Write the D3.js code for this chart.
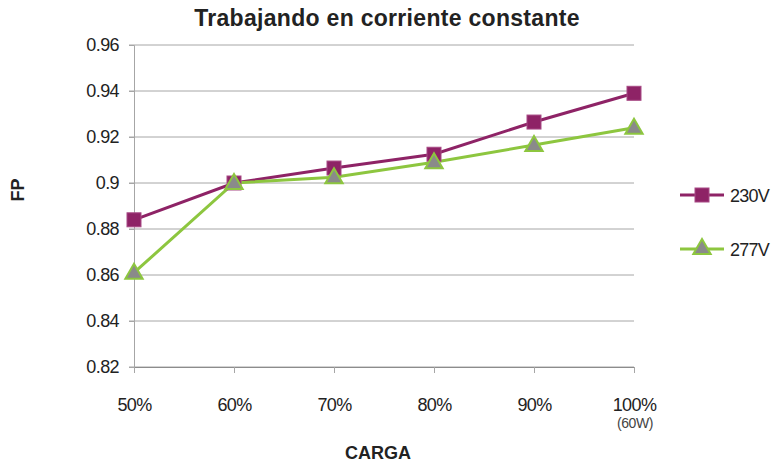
<!DOCTYPE html>
<html>
<head>
<meta charset="utf-8">
<script src="https://cdn.jsdelivr.net/npm/d3@7"></script>
<style>
  body { margin: 0; background: #fff; }
  text { font-family: "Liberation Sans", Arial, sans-serif; fill: #222; }
  .tick text { font-size: 18px; letter-spacing: -0.6px; }
</style>
</head>
<body>
<div id="chart"></div>
<script>
// chart data
var categories = ["50%", "60%", "70%", "80%", "90%", "100%"];
var v230 = [0.884, 0.900, 0.9065, 0.9125, 0.9265, 0.939];
var v277 = [0.861, 0.900, 0.9025, 0.909, 0.9165, 0.924];
var yTicks = [0.82, 0.84, 0.86, 0.88, 0.9, 0.92, 0.94, 0.96];

var svgWidth = 771;
var svgHeight = 467;
var margin = { top: 45, left: 134, right: 137, bottom: 100 };
var width = svgWidth - margin.left - margin.right;
var height = svgHeight - margin.top - margin.bottom;

var svg = d3.select("#chart").append("svg")
  .attr("width", svgWidth)
  .attr("height", svgHeight);

var g = svg.append("g")
  .attr("transform", `translate(${margin.left}, ${margin.top})`);

var x = d3.scalePoint().domain(categories).range([0, width]);
var y = d3.scaleLinear().domain([0.82, 0.96]).range([height, 0]);

// grid lines
g.selectAll(".grid")
  .data(yTicks)
  .enter().append("line")
  .attr("x1", -5)
  .attr("x2", width)
  .attr("y1", d => y(d))
  .attr("y2", d => y(d))
  .attr("stroke", "#a6a6a6")
  .attr("stroke-width", 1);

// y axis
var yAxis = g.append("g")
  .call(d3.axisLeft(y).tickValues(yTicks).tickSize(5).tickPadding(10)
    .tickFormat(d => d3.format("")(+d.toFixed(2))));
yAxis.select(".domain").attr("stroke", "#a6a6a6");
yAxis.selectAll(".tick line").attr("stroke", "#a6a6a6");

// x axis
var xAxis = g.append("g")
  .attr("transform", `translate(0, ${height})`)
  .call(d3.axisBottom(x).tickSize(6).tickPadding(25).tickSizeOuter(0));
xAxis.select(".domain").attr("stroke", "#8c8c8c");
xAxis.selectAll(".tick line").attr("stroke", "#a6a6a6");

g.append("text")
  .attr("x", x("100%") + 1)
  .attr("y", height + 61)
  .attr("text-anchor", "middle")
  .style("font-size", "14px")
  .style("letter-spacing", "-0.4px")
  .style("fill", "#444")
  .text("(60W)");

var purple = "#8e2366";
var green = "#8dc63f";

var line = d3.line()
  .x((d, i) => x(categories[i]))
  .y(d => y(d));

g.append("path")
  .datum(v230)
  .attr("d", line)
  .attr("fill", "none")
  .attr("stroke", purple)
  .attr("stroke-width", 3);

g.append("path")
  .datum(v277)
  .attr("d", line)
  .attr("fill", "none")
  .attr("stroke", green)
  .attr("stroke-width", 3);

var tri = d3.symbol().type(d3.symbolTriangle).size(130);

g.selectAll(".sq")
  .data(v230)
  .enter().append("rect")
  .attr("x", (d, i) => x(categories[i]) - 7)
  .attr("y", d => y(d) - 7)
  .attr("width", 14)
  .attr("height", 14)
  .attr("fill", purple)
  .attr("stroke", "#a84a85")
  .attr("stroke-width", 1);

g.selectAll(".tri")
  .data(v277)
  .enter().append("path")
  .attr("d", tri)
  .attr("transform", (d, i) => `translate(${x(categories[i])}, ${y(d) + 1})`)
  .attr("fill", "#8a8a8a")
  .attr("stroke", green)
  .attr("stroke-width", 2);

// title and axis labels
svg.append("text")
  .attr("x", 387)
  .attr("y", 26)
  .attr("text-anchor", "middle")
  .style("font-size", "23px")
  .style("font-weight", "bold")
  .style("letter-spacing", "0.3px")
  .text("Trabajando en corriente constante");

svg.append("text")
  .attr("x", 378)
  .attr("y", 459)
  .attr("text-anchor", "middle")
  .style("font-size", "18px")
  .style("font-weight", "bold")
  .text("CARGA");

svg.append("text")
  .attr("transform", "translate(24, 190) rotate(-90)")
  .attr("text-anchor", "middle")
  .style("font-size", "18px")
  .style("font-weight", "bold")
  .text("FP");

// legend
var legend = [
  { name: "230V", color: purple, y: 195 },
  { name: "277V", color: green, y: 249 }
];
var lg = svg.selectAll(".legend")
  .data(legend)
  .enter().append("g")
  .attr("transform", d => `translate(680, ${d.y})`);
lg.append("line")
  .attr("x1", 0).attr("x2", 44)
  .attr("stroke", d => d.color)
  .attr("stroke-width", 3);
lg.filter((d, i) => i === 0).append("rect")
  .attr("x", 15).attr("y", -7).attr("width", 14).attr("height", 14)
  .attr("fill", purple).attr("stroke", "#a84a85");
lg.filter((d, i) => i === 1).append("path")
  .attr("d", tri)
  .attr("transform", "translate(22, 0)")
  .attr("fill", "#8a8a8a").attr("stroke", green).attr("stroke-width", 2);
lg.append("text")
  .attr("x", 50)
  .attr("y", 7)
  .style("font-size", "18px")
  .style("letter-spacing", "-0.8px")
  .text(d => d.name);
</script>
</body>
</html>
